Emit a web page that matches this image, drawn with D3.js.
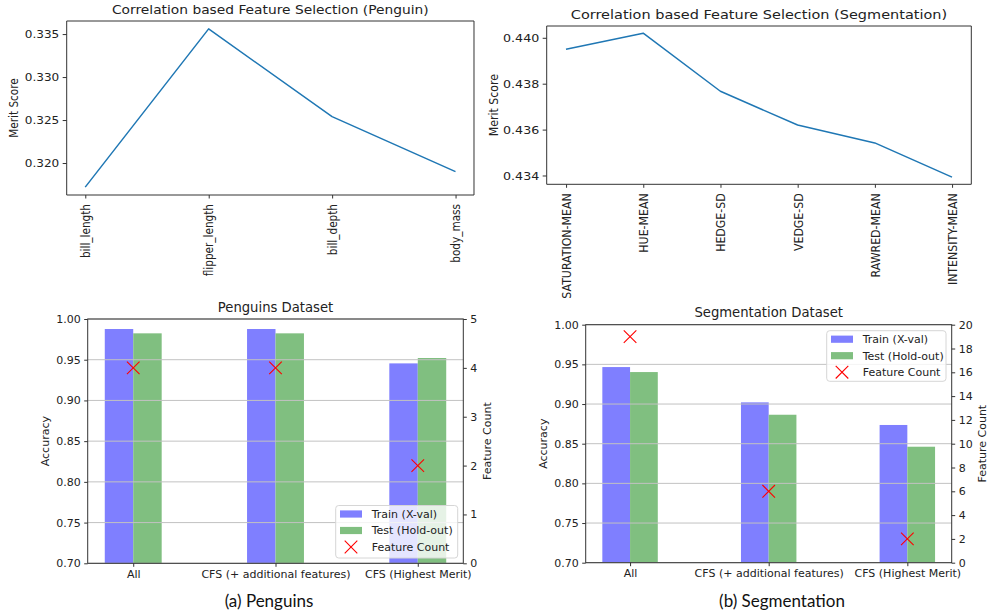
<!DOCTYPE html>
<html><head><meta charset="utf-8">
<script src="https://cdn.jsdelivr.net/npm/d3@7"></script>
<style>
body{margin:0;background:#fff}
svg text{font-family:"DejaVu Sans",sans-serif;fill:#222}
</style></head>
<body><svg id="c" width="988" height="615"></svg>
<script>
// ---------- data ----------
const penguinFeatures = ["bill_length","flipper_length","bill_depth","body_mass"];
const penguinMerit = [0.3172,0.3356,0.3254,0.3190];
const penguinMeritTicks = [0.320,0.325,0.330,0.335];

const segFeatures = ["SATURATION-MEAN","HUE-MEAN","HEDGE-SD","VEDGE-SD","RAWRED-MEAN","INTENSITY-MEAN"];
const segMerit = [0.43950,0.44020,0.43767,0.43620,0.43542,0.43393];
const segMeritTicks = [0.434,0.436,0.438,0.440];

const methods = ["All","CFS (+ additional features)","CFS (Highest Merit)"];
const penguinTrain = [0.9877,0.9877,0.9455];
const penguinTest  = [0.9824,0.9824,0.9521];
const penguinCount = [4,4,2];
const segTrain = [0.9466,0.9021,0.8736];
const segTest  = [0.9403,0.8865,0.8462];
const segCount = [19,6,2];

const accTicks = [0.70,0.75,0.80,0.85,0.90,0.95,1.00];
const penguinCountTicks = [0,1,2,3,4,5];
const segCountTicks = [0,2,4,6,8,10,12,14,16,18,20];
const legendLabels = ["Train (X-val)","Test (Hold-out)","Feature Count"];

const svg = d3.select("#c");
const AX = "#333";

// ---------- line charts (top) ----------
function lineChart(o){
  const g = svg.append("g").attr("transform",`translate(${o.x0},0) scale(${o.sx},1)`);
  const W = o.w/o.sx, top=o.y0, bot=o.y0+o.h;
  const n = o.features.length;
  const x = d3.scalePoint().domain(o.features).range([0,W]).padding(0.05*(n-1));
  const lo = d3.min(o.values), hi = d3.max(o.values), r = hi-lo;
  const y = d3.scaleLinear().domain([lo-0.05*r, hi+0.05*r]).range([bot,top]);

  const ya = g.append("g").call(d3.axisLeft(y).tickValues(o.ticks).tickFormat(d3.format(".3f")).tickSize(3.5).tickPadding(3));
  ya.select(".domain").remove();
  ya.selectAll("line").attr("stroke",AX).attr("vector-effect","non-scaling-stroke");
  ya.selectAll("text").style("font-size",o.fs+"px");

  const xa = g.append("g").attr("transform",`translate(0,${bot})`).call(d3.axisBottom(x).tickSize(3.5));
  xa.select(".domain").remove();
  xa.selectAll("line").attr("stroke",AX).attr("vector-effect","non-scaling-stroke");
  xa.selectAll("text").style("font-size",o.fs+"px")
    .attr("transform","rotate(-90)").attr("text-anchor","end")
    .attr("x",-o.lpad).attr("y",0).attr("dy","0.35em");

  g.append("path").datum(o.values.map((v,i)=>[o.features[i],v]))
    .attr("fill","none").attr("stroke","#1f77b4").attr("stroke-width",1.5)
    .attr("stroke-linejoin","round").attr("vector-effect","non-scaling-stroke")
    .attr("d",d3.line().x(d=>x(d[0])).y(d=>y(d[1])));

  g.append("rect").attr("x",0).attr("y",top).attr("width",W).attr("height",o.h)
    .attr("fill","none").attr("stroke",AX).attr("stroke-width",1).attr("vector-effect","non-scaling-stroke");

  g.append("text").attr("x",W/2).attr("y",o.titleY).attr("text-anchor","middle")
    .style("font-size",o.tfs+"px").text(o.title);
  g.append("text").attr("transform",`translate(${o.ylabX},${(top+bot)/2}) rotate(-90)`)
    .attr("text-anchor","middle").attr("dy","0.35em").style("font-size",o.fs+"px").text("Merit Score");
}

lineChart({x0:66.7,y0:21,w:407.3,h:174,sx:1.15,features:penguinFeatures,values:penguinMerit,
  ticks:penguinMeritTicks,fs:10.5,tfs:12,lpad:9,title:"Correlation based Feature Selection (Penguin)",titleY:14.5,ylabX:-46});
lineChart({x0:546.7,y0:26,w:424.6,h:158.3,sx:1.15,features:segFeatures,values:segMerit,
  ticks:segMeritTicks,fs:11,tfs:12.6,lpad:9,title:"Correlation based Feature Selection (Segmentation)",titleY:19.5,ylabX:-46.5});

// ---------- bar charts (bottom) ----------
function barChart(o){
  const g = svg.append("g");
  const L=o.x0, R=o.x0+o.w, top=o.y0, bot=o.y0+o.h;
  const x = d3.scalePoint().domain(methods).range([L,R]).padding(0.32);
  const bw = 0.2*x.step();
  const y = d3.scaleLinear().domain([0.7,1.0]).range([bot,top]);
  const y2 = d3.scaleLinear().domain(o.countDomain).range([bot,top]);
  const fs = 11;

  // bars
  g.selectAll(".tr").data(o.train).enter().append("rect")
    .attr("x",(d,i)=>x(methods[i])-bw).attr("width",bw)
    .attr("y",d=>y(d)).attr("height",d=>bot-y(d))
    .attr("fill","rgb(127,127,255)");
  g.selectAll(".te").data(o.test).enter().append("rect")
    .attr("x",(d,i)=>x(methods[i])).attr("width",bw)
    .attr("y",d=>y(d)).attr("height",d=>bot-y(d))
    .attr("fill","rgb(128,191,128)");

  // grid
  g.selectAll(".grid").data(accTicks).enter().append("line")
    .attr("x1",L).attr("x2",R).attr("y1",d=>y(d)).attr("y2",d=>y(d))
    .attr("stroke","#c2c2c2").attr("stroke-width",1);

  // left axis
  const ya = g.append("g").attr("transform",`translate(${L},0)`)
    .call(d3.axisLeft(y).tickValues(accTicks).tickFormat(d3.format(".2f")).tickSize(3.5).tickPadding(3.5));
  ya.select(".domain").remove();
  ya.selectAll("line").attr("stroke",AX);
  ya.selectAll("text").style("font-size",fs+"px");
  // right axis
  const yb = g.append("g").attr("transform",`translate(${R},0)`)
    .call(d3.axisRight(y2).tickValues(o.countTicks).tickFormat(d3.format("d")).tickSize(3.5).tickPadding(3.5));
  yb.select(".domain").remove();
  yb.selectAll("line").attr("stroke",AX);
  yb.selectAll("text").style("font-size",fs+"px");
  // bottom axis
  const xa = g.append("g").attr("transform",`translate(0,${bot})`)
    .call(d3.axisBottom(x).tickSize(3.5).tickPadding(3.5));
  xa.select(".domain").remove();
  xa.selectAll("line").attr("stroke",AX);
  xa.selectAll("text").style("font-size",fs+"px");

  // frame
  g.append("rect").attr("x",L).attr("y",top).attr("width",o.w).attr("height",o.h)
    .attr("fill","none").attr("stroke",AX).attr("stroke-width",1);

  // feature count markers
  const ms = 6.3;
  const mk = `M${-ms},${-ms}L${ms},${ms}M${-ms},${ms}L${ms},${-ms}`;
  g.selectAll(".mk").data(o.count).enter().append("path")
    .attr("transform",(d,i)=>`translate(${x(methods[i])},${y2(d)})`)
    .attr("d",mk).attr("stroke","red").attr("stroke-width",1.1).attr("fill","none");

  // titles & labels
  g.append("text").attr("x",(L+R)/2).attr("y",top-7.5).attr("text-anchor","middle")
    .style("font-size","13.2px").text(o.title);
  g.append("text").attr("transform",`translate(${o.accX},${(top+bot)/2}) rotate(-90)`)
    .attr("text-anchor","middle").attr("dy","0.35em").style("font-size",fs+"px").text("Accuracy");
  g.append("text").attr("transform",`translate(${o.fcX},${(top+bot)/2}) rotate(-90)`)
    .attr("text-anchor","middle").attr("dy","0.35em").style("font-size",fs+"px").text("Feature Count");

  // legend
  const lg = g.append("g").attr("transform",`translate(${o.lx},${o.ly})`);
  lg.append("rect").attr("width",o.lw).attr("height",o.lh).attr("rx",3)
    .attr("fill","white").attr("fill-opacity",0.8).attr("stroke","#d6d6d6");
  const rows=[8.5,25,41.5];
  lg.append("rect").attr("x",4.3).attr("y",rows[0]-3.6).attr("width",22).attr("height",7.2).attr("fill","rgb(127,127,255)");
  lg.append("rect").attr("x",4.3).attr("y",rows[1]-3.6).attr("width",22).attr("height",7.2).attr("fill","rgb(128,191,128)");
  lg.append("path").attr("transform",`translate(${15.3},${rows[2]})`).attr("d",mk)
    .attr("stroke","red").attr("stroke-width",1.1).attr("fill","none");
  lg.selectAll(".lt").data(legendLabels).enter().append("text")
    .attr("x",36).attr("y",(d,i)=>rows[i]).attr("dy","0.35em").style("font-size",fs+"px").text(d=>d);

  // caption
  svg.append("text").attr("x",o.capX).attr("y",607).attr("text-anchor","middle")
    .style("font-family","Lato, 'Open Sans', sans-serif").style("font-size","17px").style("fill","#111")
    .text(o.caption);
}

barChart({x0:87.7,y0:319,w:375.6,h:244.3,train:penguinTrain,test:penguinTest,count:penguinCount,
  countDomain:[0,5],countTicks:penguinCountTicks,title:"Penguins Dataset",accX:45,fcX:487,
  lx:335.7,ly:505.5,lw:122,lh:52.5,caption:"(a) Penguins",capX:269});
barChart({x0:585.7,y0:324.7,w:366,h:238,train:segTrain,test:segTest,count:segCount,
  countDomain:[0,20],countTicks:segCountTicks,title:"Segmentation Dataset",accX:542.7,fcX:981.7,
  lx:826.7,ly:330.7,lw:119.3,lh:50.6,caption:"(b) Segmentation",capX:782});
</script></body></html>
